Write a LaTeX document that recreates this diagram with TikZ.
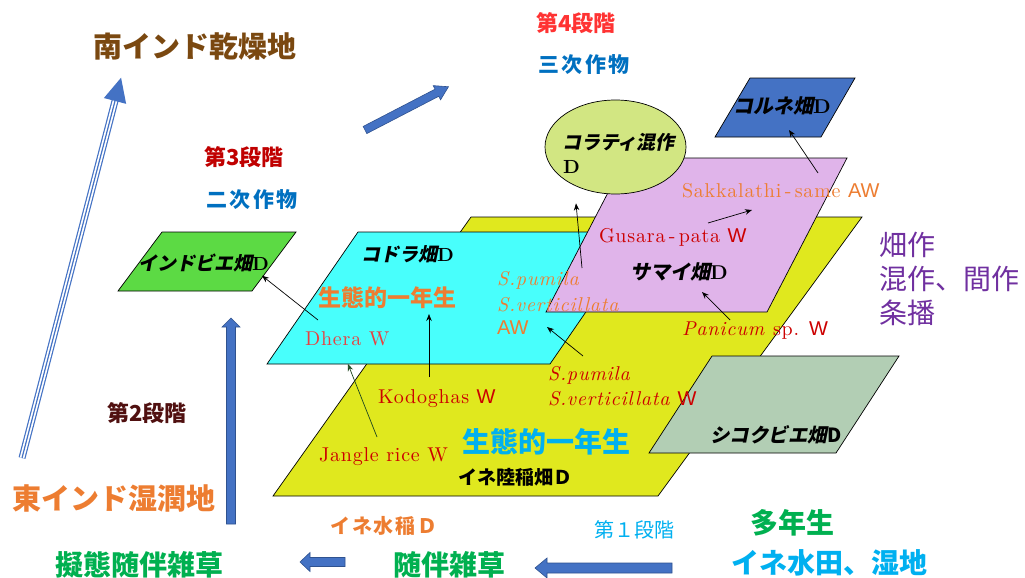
\documentclass[tikz,border=0pt]{standalone}
\usepackage{fontspec}
\usetikzlibrary{arrows.meta,shapes.geometric,calc}
\setmainfont{lmroman10-regular.otf}[BoldFont=lmroman10-bold.otf, ItalicFont=lmroman10-italic.otf, BoldItalicFont=lmroman10-bolditalic.otf]
\newfontfamily\jp{Noto Sans CJK JP}
\newfontfamily\jpsl{Noto Sans CJK JP}[FakeSlant=0.2]
\newfontfamily\arial{Liberation Sans}
\newcommand\myfs[1]{\fontsize{#1}{#1}\selectfont}
\definecolor{cBrown}{RGB}{122,72,16}
\definecolor{cRedA}{RGB}{192,0,0}
\definecolor{cRedB}{RGB}{255,51,51}
\definecolor{cBlueT}{RGB}{0,112,192}
\definecolor{cMaroon}{RGB}{80,16,16}
\definecolor{cOrange}{RGB}{237,125,49}
\definecolor{cGreenT}{RGB}{0,176,80}
\definecolor{cSky}{RGB}{0,176,240}
\definecolor{cPurple}{RGB}{112,48,160}
\definecolor{cRedW}{RGB}{204,0,0}
\definecolor{cDhera}{RGB}{232,64,64}
\definecolor{cYellow}{RGB}{224,232,30}
\definecolor{cCyan}{RGB}{72,255,252}
\definecolor{cPink}{RGB}{224,180,234}
\definecolor{cGrey}{RGB}{178,206,180}
\definecolor{cLime}{RGB}{92,218,68}
\definecolor{cBlueP}{RGB}{68,114,196}
\definecolor{cEll}{RGB}{210,230,130}
\definecolor{cArrowDk}{RGB}{47,82,143}
\definecolor{cDkGreen}{RGB}{30,70,30}
\tikzset{
  txt/.style={inner sep=0pt, outer sep=0pt, anchor=base},
  txtl/.style={inner sep=0pt, outer sep=0pt, anchor=base west},
  plane/.style={draw=black, line width=0.7pt, line join=miter},
  arr/.style={draw=black, line width=0.7pt, -{Stealth[length=7pt,width=5.5pt]}},
  blk/.style={draw=cArrowDk, line width=0.6pt, fill=cBlueP},
  lat/.style={txtl, font={\myfs{20}\addfontfeature{LetterSpace=4}}},
  pl/.style={txtl, font={\jpsl\bfseries\myfs{19}}},
}
\newcommand\sw[1]{{\arial\myfs{20}#1}}
\begin{document}
\begin{tikzpicture}[x=1pt,y=-1pt]
\useasboundingbox (0,0) rectangle (1025,578);
\fill[white] (0,0) rectangle (1025,578);

% ---- planes ----
\coordinate (yeTL) at (471,217); \coordinate (yeTR) at (862,217);
\coordinate (yeBR) at (658,496); \coordinate (yeBL) at (273,496);
\coordinate (cyTL) at (358,232); \coordinate (cyTR) at (641,232);
\coordinate (cyBR) at (550,364); \coordinate (cyBL) at (267,364);
\coordinate (pkTL) at (626,158); \coordinate (pkTR) at (847,158);
\coordinate (pkBR) at (767,312); \coordinate (pkBL) at (546,312);
\coordinate (grTL) at (712,356); \coordinate (grTR) at (899,356);
\coordinate (grBR) at (836,453); \coordinate (grBL) at (649,453);
\coordinate (lmTL) at (162,232); \coordinate (lmTR) at (296,232);
\coordinate (lmBR) at (252,291); \coordinate (lmBL) at (118,291);
\coordinate (blTL) at (750,78); \coordinate (blTR) at (855,78);
\coordinate (blBR) at (821,137); \coordinate (blBL) at (715,137);

\path[plane, fill=cYellow] (yeTL) -- (yeTR) -- (yeBR) -- (yeBL) -- cycle;
\path[plane, fill=cCyan] (cyTL) -- (cyTR) -- (cyBR) -- (cyBL) -- cycle;
\path[plane, fill=cPink] (pkTL) -- (pkTR) -- (pkBR) -- (pkBL) -- cycle;
\node[ellipse, draw=black, line width=0.7pt, fill=cEll, minimum width=141pt, minimum height=94pt, inner sep=0pt] (kor) at (615.5,147) {};
\path[plane, fill=cGrey] (grTL) -- (grTR) -- (grBR) -- (grBL) -- cycle;
\path[plane, fill=cLime] (lmTL) -- (lmTR) -- (lmBR) -- (lmBL) -- cycle;
\path[plane, fill=cBlueP] (blTL) -- (blTR) -- (blBR) -- (blBL) -- cycle;

% ---- block arrows ----
\begin{scope}[shift={(365,130)}, rotate=27.4]
  \draw[blk] (0,-4) -- (81,-4) -- (81,-8) -- (94,0) -- (81,8) -- (81,4) -- (0,4) -- cycle;
\end{scope}
\begin{scope}[shift={(231,524)}, rotate=90]
  \draw[blk] (0,-4.5) -- (197,-4.5) -- (197,-9) -- (206,0) -- (197,9) -- (197,4.5) -- (0,4.5) -- cycle;
\end{scope}
\begin{scope}[shift={(345,562)}, rotate=180]
  \draw[blk] (0,-4.5) -- (35,-4.5) -- (35,-9.5) -- (45,0) -- (35,9.5) -- (35,4.5) -- (0,4.5) -- cycle;
\end{scope}
\begin{scope}[shift={(672,568)}, rotate=180]
  \draw[blk] (0,-5) -- (125,-5) -- (125,-10) -- (137,0) -- (125,10) -- (125,5) -- (0,5) -- cycle;
\end{scope}
\begin{scope}[shift={(22,458)}, rotate=75.4]
  \draw[cBlueP, line width=7pt] (0,0) -- (372,0);
  \draw[white, line width=4.6pt] (0,0) -- (372,0);
  \draw[cBlueP, line width=1.2pt] (0,0) -- (372,0);
  \fill[cBlueP] (369,-11.5) -- (393,0) -- (369,11.5) -- cycle;
\end{scope}

% ---- big labels ----
\node[txt, text=cBrown, font={\jp\bfseries\myfs{29}}] (south) at (195,58) {南インド乾燥地};
\node[txt, text=cRedB, font={\jp\bfseries\myfs{22}}] (st4) at (576,31.4) {第4段階};
\node[txt, text=cBlueT, font={\jp\bfseries\myfs{21}\addfontfeature{LetterSpace=12}}] (cr3) at (584,73) {三次作物};
\node[txt, text=cRedA, font={\jp\bfseries\myfs{22}}] (st3) at (244,165.4) {第3段階};
\node[txt, text=cBlueT, font={\jp\bfseries\myfs{21}\addfontfeature{LetterSpace=12}}] (cr2) at (252,207) {二次作物};
\node[txt, text=cMaroon, font={\jp\bfseries\myfs{22}}] (st2) at (147,421.4) {第2段階};
\node[txt, text=cOrange, font={\jp\bfseries\myfs{29}}] (east) at (114,509) {東インド湿潤地};
\node[txt, text=cGreenT, font={\jp\bfseries\myfs{28}}] (mimic) at (139,575) {擬態随伴雑草};
\node[txt, text=cGreenT, font={\jp\bfseries\myfs{28}}] (comp) at (449,575.6) {随伴雑草};
\node[txt, text=cOrange, font={\jp\bfseries\myfs{20}\addfontfeature{LetterSpace=9}}] (paddy) at (384,533) {イネ水稲Ｄ};
\node[txt, text=cSky, font={\jp\myfs{20}}] (st1) at (634,537.6) {第１段階};
\node[txt, text=cGreenT, font={\jp\bfseries\myfs{28}}] (peren) at (792,533) {多年生};
\node[txt, text=cSky, font={\jp\bfseries\myfs{28}}] (wet) at (829,573.6) {イネ水田、湿地};
\node[txtl, text=cPurple, font={\jp\myfs{28}}] (up1) at (879,255.6) {畑作};
\node[txtl, text=cPurple, font={\jp\myfs{28}}] (up2) at (879,289) {混作、間作};
\node[txtl, text=cPurple, font={\jp\myfs{28}}] (up3) at (879,323) {条播};

% ---- plane labels ----
\node[pl] (kodra) at (361,261) {コドラ畑{\rmfamily\bfseries D}};
\node[txtl, text=cOrange, font={\jp\bfseries\myfs{23}}] (seiO) at (318,306) {生態的一年生};
\node[pl, font={\jpsl\bfseries\myfs{20}}] (samai) at (630,279) {サマイ畑{\rmfamily\bfseries D}};
\node[pl] (indobie) at (138,270.7) {インドビエ畑{\rmfamily\bfseries D}};
\node[pl, font={\jpsl\bfseries\myfs{20}}] (korne) at (733,113) {コルネ畑{\rmfamily\bfseries D}};
\node[pl, font={\jpsl\bfseries\myfs{19.5}}] (shiko) at (710,442) {シコクビエ畑{\jp\bfseries D}};
\node[txtl, font={\jp\bfseries\myfs{19}}] (rikuto) at (458,484) {イネ陸稲畑Ｄ};
\node[txtl, text=cSky, font={\jp\bfseries\myfs{28}}] (seiB) at (462,452) {生態的一年生};
\node[pl] (kor1) at (562,149.7) {コラティ混作};
\node[txtl, font={\bfseries\myfs{19}}] (kor2) at (563,173) {D};

% ---- latin labels ----
\node[lat, text=cDhera] (dhera) at (305,345) {Dhera W};
\node[lat, text=cRedW] (kodo) at (378,403) {Kodoghas \sw{W}};
\node[lat, text=cRedW] (jangle) at (319,461) {Jangle rice W};
\node[lat, text=cRedW] (spR1) at (548,380) {\itshape S.pumila};
\node[lat, text=cRedW] (spR2) at (548,405) {\itshape S.verticillata \upshape\sw{W}};
\node[lat, text=cOrange] (spO1) at (497,285) {\itshape S.pumila};
\node[lat, text=cOrange] (spO2) at (497,311) {\itshape S.verticillata};
\node[txtl, text=cOrange, font={\arial\myfs{20}}] (awO) at (497,334) {AW};
\node[lat, text=cRedW] (gus) at (599,242) {Gusara\,-\,pata \sw{W}};
\node[lat, text=cRedW] (pan) at (682,335) {\textit{Panicum} sp. \sw{W}};
\node[lat, text=cOrange] (sak) at (682,197) {Sakkalathi\,-\,same \sw{AW}};

% ---- connectors ----
\draw[arr] ([shift={(13,-25)}]dhera.base west) -- ([shift={(124,5)}]indobie.base west);
\draw[arr] ([shift={(51,-26)}]kodo.base west) -- ([shift={(111,8)}]seiO.base west);
\draw[arr, draw=cDkGreen] ([shift={(58,-24)}]jangle.base west) -- ($(cyBL)!0.286!(cyBR)$);
\draw[arr] ([shift={(35,-24)}]spR1.base west) -- ([shift={(50,-7)}]awO.base west);
\draw[arr] ([shift={(85,-17)}]spO1.base west) -- ([shift={(-39.5,9)}]kor.south);
\draw[arr] ([shift={(109,-19)}]gus.base west) -- ([shift={(70,13)}]sak.base west);
\draw[arr] ([shift={(48,-15)}]pan.base west) -- ([shift={(72,13)}]samai.base west);
\draw[arr] ([shift={(136,-24)}]sak.base west) -- ([shift={(56,17)}]korne.base west);
\end{tikzpicture}
\end{document}
